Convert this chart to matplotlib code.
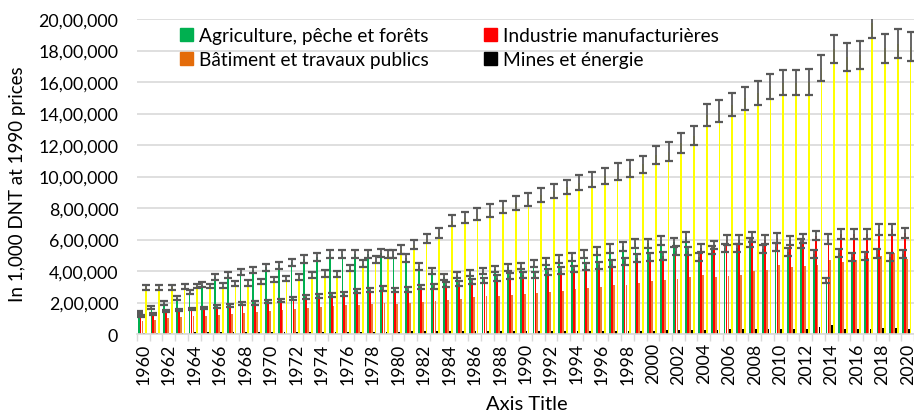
import matplotlib
matplotlib.use("Agg")
import matplotlib.pyplot as plt
from matplotlib.patches import Patch
from matplotlib.ticker import FuncFormatter, FixedLocator
import numpy as np

plt.rcParams['font.family'] = ['Lato', 'DejaVu Sans']

# ---- data (values in thousands of the axis unit) ----
unit = 1000
years = list(range(1960, 2021))

agriculture = [140, 170, 197, 229, 265, 314, 360, 377, 392, 405,
               424, 437, 456, 477, 490, 505, 505, 505, 509, 515,
               505, 483, 430, 398, 363, 373, 388, 398, 413, 424,
               432, 445, 462, 477, 490, 509, 526, 543, 558, 575,
               575, 594, 583, 617, 490, 535, 547, 547, 583, 541,
               553, 522, 575, 505, 339, 515, 490, 494, 511, 490,
               505]

industrie = [112, 127, 148, 153, 159, 165, 174, 182, 191, 197,
             208, 214, 225, 233, 240, 246, 256, 271, 278, 288,
             278, 282, 299, 303, 314, 318, 331, 341, 356, 367,
             372, 377, 394, 403, 413, 430, 435, 445, 462, 483,
             488, 494, 530, 526, 545, 565, 596, 600, 615, 600,
             611, 594, 606, 625, 604, 636, 632, 632, 664, 664,
             642]

batiment = [81, 87, 102, 106, 112, 116, 123, 129, 134, 140,
            144, 150, 159, 165, 170, 176, 182, 186, 193, 197,
            193, 197, 203, 212, 218, 225, 233, 240, 244, 250,
            254, 261, 267, 276, 286, 293, 301, 310, 314, 324,
            339, 346, 352, 363, 373, 360, 371, 377, 399, 409,
            441, 424, 430, 437, 473, 456, 473, 483, 498, 515,
            477]

mines = [8, 8, 9, 9, 10, 10, 10, 11, 11, 11,
         12, 12, 12, 13, 13, 13, 14, 14, 15, 15,
         15, 16, 16, 16, 17, 17, 17, 18, 18, 18,
         19, 19, 19, 20, 20, 20, 21, 21, 21, 22,
         22, 23, 24, 25, 26, 28, 32, 33, 32, 32,
         32, 32, 33, 42, 55, 32, 32, 33, 40, 38,
         30]

services = [297, 297, 297, 301, 305, 305, 307, 318, 324, 335,
            346, 352, 363, 373, 384, 380, 420, 445, 473, 505,
            536, 568, 606, 642, 720, 739, 764, 785, 806, 832,
            855, 883, 910, 933, 961, 982, 1003, 1031, 1052, 1078,
            1139, 1158, 1213, 1260, 1391, 1417, 1457, 1496, 1530, 1573,
            1594, 1594, 1600, 1690, 1808, 1761, 1772, 1976, 1814, 1843,
            1825]

labels = ["Agriculture, pêche et forêts", "Industrie manufacturières",
          "Bâtiment et travaux publics", "Mines et énergie"]
y_ticks = [0, 200000, 400000, 600000, 800000, 1000000, 1200000,
           1400000, 1600000, 1800000, 2000000]
error_pct = 0.05

# ---- figure ----
W, H = 914, 414
fig = plt.figure(figsize=(W / 100, H / 100), dpi=100)
ax = fig.add_axes([137 / W, 1 - 335 / H, (914 - 137) / W, (335 - 20) / H])

n = len(years)
x = np.arange(n)
series = [
    (agriculture, '#00B050', True),
    (industrie, '#FF0000', True),
    (batiment, '#EE7A30', False),
    (mines, '#000000', False),
    (services, '#FFFF00', True),
]
step, width, shift = 0.15, 0.14, -0.07
for k, (vals, color, err) in enumerate(series):
    v = np.array(vals, dtype=float) * unit
    pos = x + shift + (k - 2) * step
    ax.bar(pos, v, width=width, color=color, linewidth=0, zorder=2)
    if err:
        ax.errorbar(pos, v, yerr=error_pct * v, fmt='none', ecolor='#595959',
                    elinewidth=1.3, capsize=3.2, capthick=1.6, zorder=3)

ax.set_xlim(-0.5, n - 0.5)
ax.set_ylim(0, 2000000)


def indian(v, pos=None):
    s = str(int(round(v)))
    if len(s) <= 3:
        return s
    last3, rest = s[-3:], s[:-3]
    groups = []
    while len(rest) > 2:
        groups.insert(0, rest[-2:])
        rest = rest[:-2]
    if rest:
        groups.insert(0, rest)
    return ",".join(groups + [last3])


ax.yaxis.set_major_locator(FixedLocator(y_ticks))
ax.yaxis.set_major_formatter(FuncFormatter(indian))
ax.tick_params(axis='y', length=0, pad=13.5, labelsize=12.8, labelcolor='black')

ax.set_xticks(x[::2])
ax.set_xticklabels([str(y) for y in years[::2]], rotation=90)
ax.set_xticks(np.arange(-0.5, n, 1.0), minor=True)
ax.tick_params(axis='x', which='major', length=0, pad=6, labelsize=12.8)
ax.tick_params(axis='x', which='minor', length=5, width=1, color='#D9D9D9')

ax.yaxis.grid(True, color='#D9D9D9', linewidth=1.2)
ax.set_axisbelow(True)
for s in ['top', 'right', 'left']:
    ax.spines[s].set_visible(False)
ax.spines['bottom'].set_color('#D9D9D9')
ax.spines['bottom'].set_linewidth(1.2)

fig.text(18 / W, 1 - 184 / H, "In 1,000 DNT at 1990 prices", rotation=90,
         ha='center', va='center', fontsize=13.5)
fig.text(527 / W, 1 - 405 / H, "Axis Title", ha='center', va='center', fontsize=14.5)

# legends (two columns placed explicitly)
cols = ['#00B050', '#FF0000', '#E46C0A', '#000000']
common = dict(loc='upper left', frameon=False, borderpad=0, borderaxespad=0,
              handlelength=0.68, handleheight=0.68, handletextpad=0.3,
              labelspacing=0.38, fontsize=13.8)
fig.legend([Patch(color=cols[0]), Patch(color=cols[2])], [labels[0], labels[2]],
           bbox_to_anchor=(180 / W, 1 - 28 / H), **common)
fig.legend([Patch(color=cols[1]), Patch(color=cols[3])], [labels[1], labels[3]],
           bbox_to_anchor=(484 / W, 1 - 28 / H), **common)

fig.savefig("out.png", dpi=100)
